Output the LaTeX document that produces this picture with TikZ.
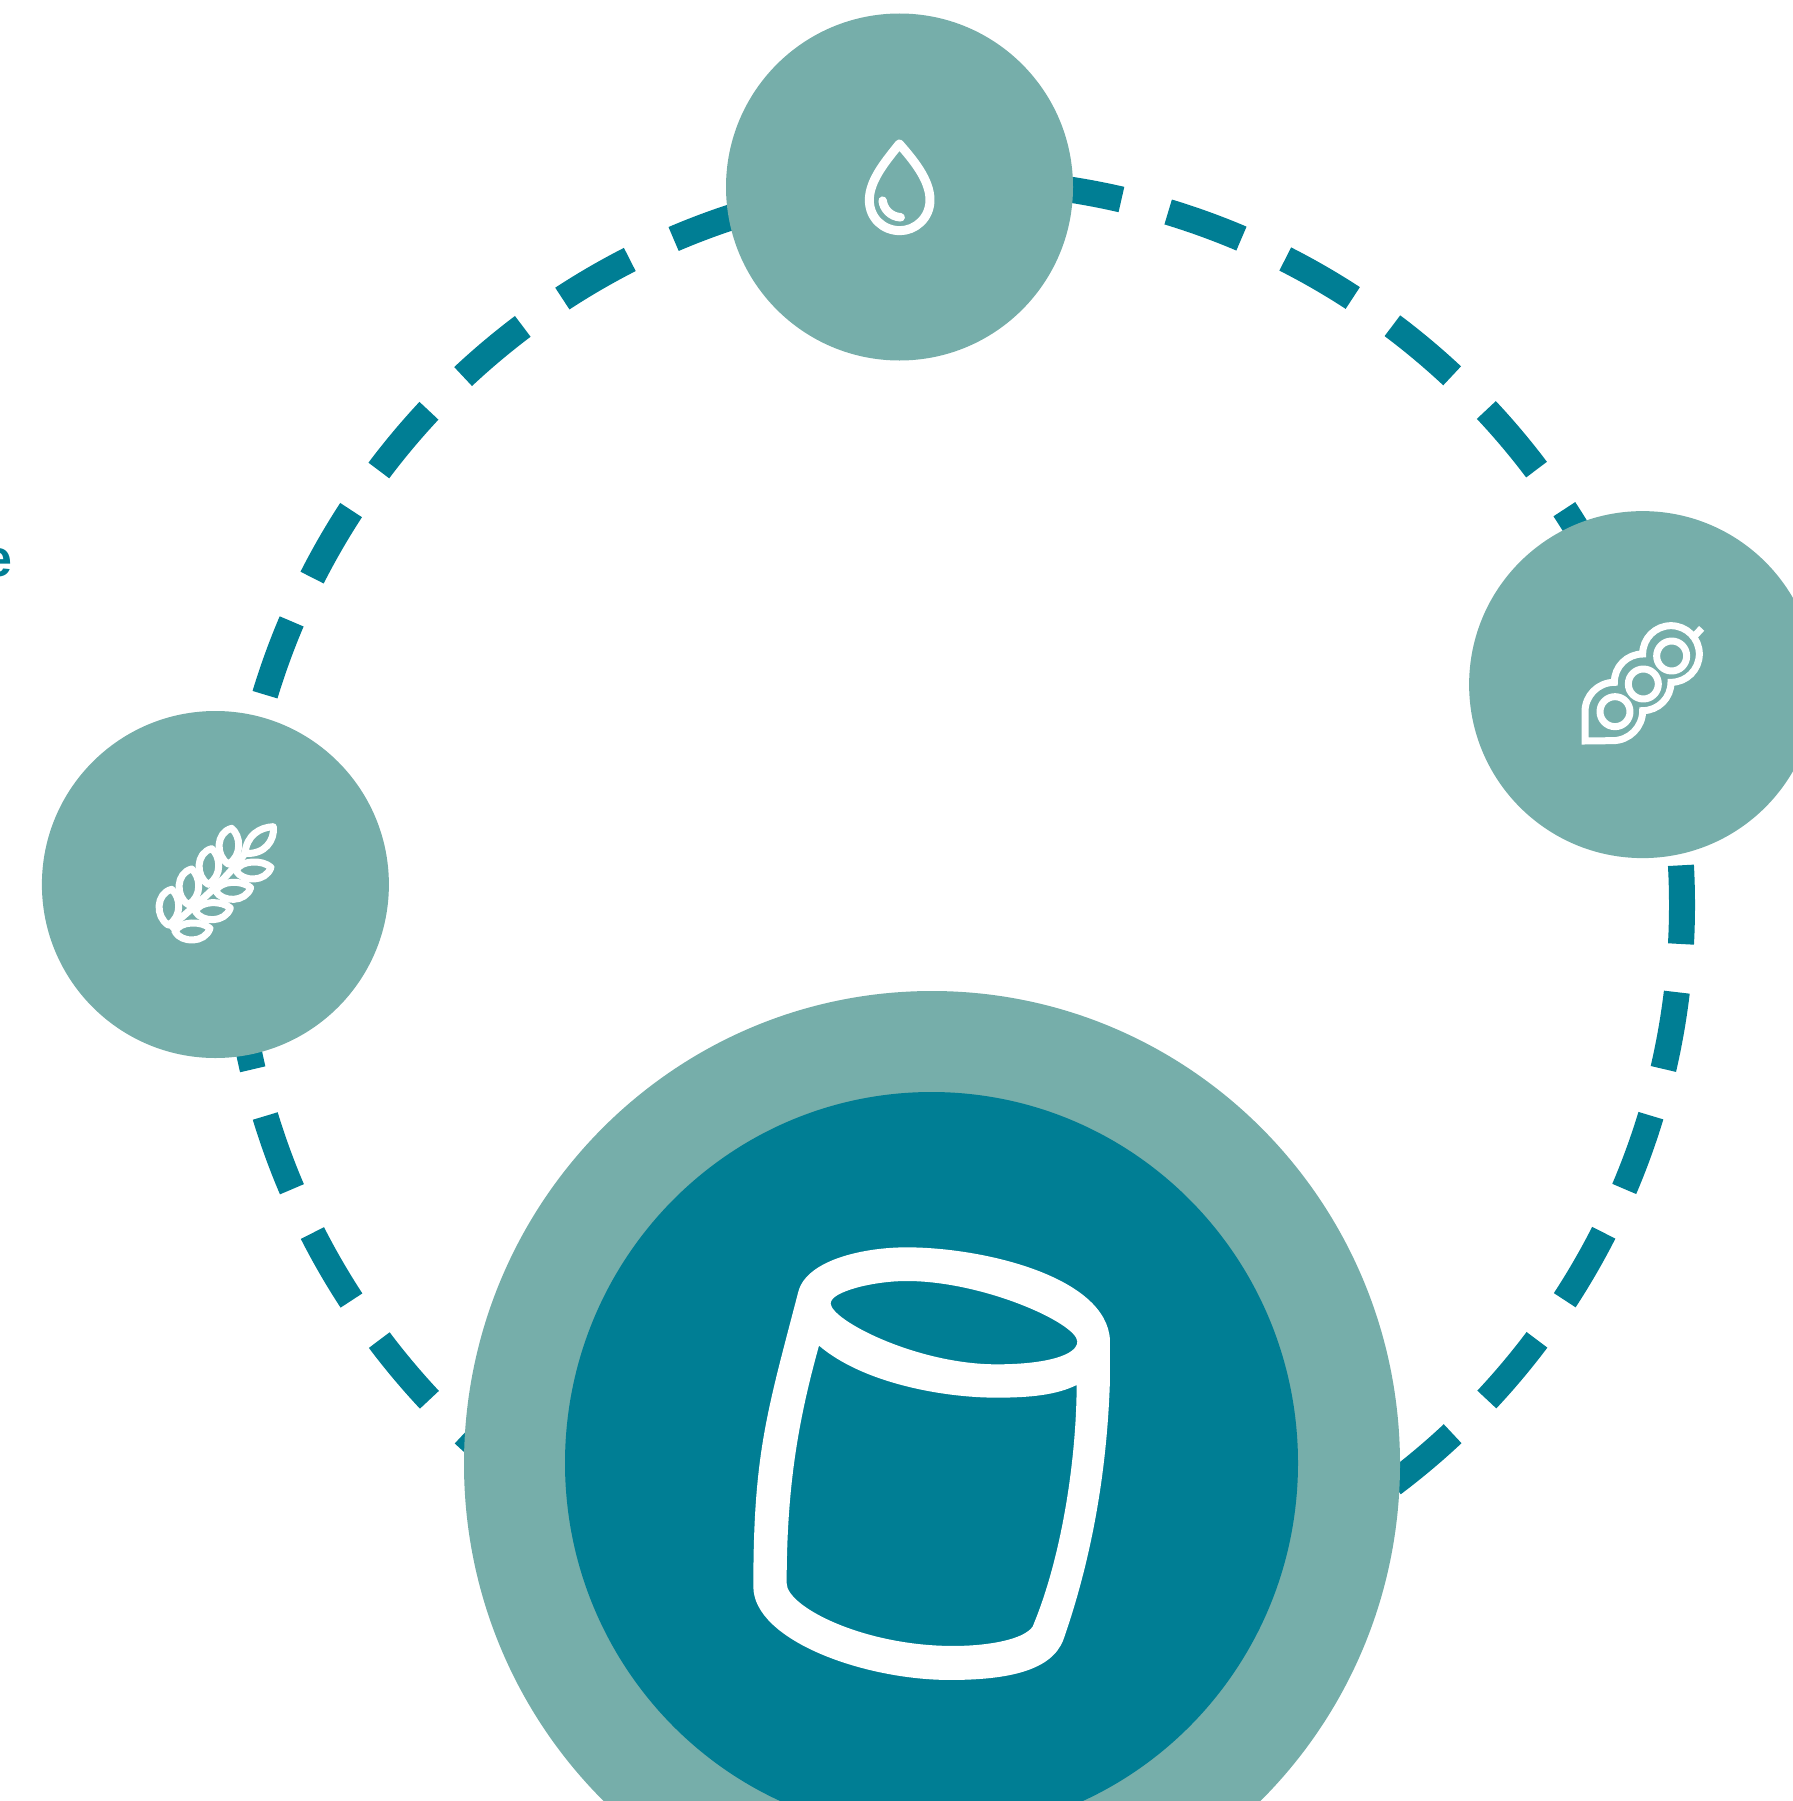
\documentclass[tikz,border=0pt]{standalone}
\usepackage{fontspec}
\setmainfont{Liberation Sans}
\usetikzlibrary{shapes.geometric}
\definecolor{TealDark}{HTML}{007E94}
\definecolor{TealPale}{HTML}{76AEAA}
\begin{document}
\begin{tikzpicture}[
x=1pt, y=-1pt,
ringdash/.style={TealDark, line width=26pt, dash pattern=on 78pt off 48.36pt, dash phase=39pt},
ingredient/.style={circle, fill=TealPale, minimum size=347pt, inner sep=0pt},
halo/.style={ellipse, fill=TealPale, minimum width=936pt, minimum height=946pt, inner sep=0pt},
core/.style={ellipse, fill=TealDark, minimum width=733pt, minimum height=742pt, inner sep=0pt},
iconline/.style={draw=white, line width=7pt, line join=round},
cutword/.style={TealDark, font=\bfseries\fontsize{52pt}{52pt}\selectfont, inner sep=0pt, anchor=base east}
]
\useasboundingbox (0,0) rectangle (1792,1801);
\coordinate (ringmid) at (958,905);
\draw[ringdash] (ringmid) circle (724);
\node[cutword] (word) at (12.5,576) {e};
\node[ingredient] (water) at (899.5,187) {};
\node[ingredient] (grain) at (215.4,884.5) {};
\node[ingredient] (pea) at (1642.6,684.6) {};
\node[halo] (haloring) at (932,1464) {};
\node[core] (corering) at (931.5,1463) {};
% water drop
\begin{scope}[shift={(840,120)}, scale=0.3333]
\draw[iconline, line width=9pt] (178,72) .. controls (220,120) and (270,180) .. (270,240) .. controls (270,295) and (225,332) .. (180,332) .. controls (130,332) and (88,295) .. (88,240) .. controls (88,180) and (140,120) .. cycle;
\draw[iconline, line width=8.5pt, line cap=round] (128,242) .. controls (130,265) and (150,290) .. (182,292);
\end{scope}
% grain ear
\begin{scope}[shift={(130,800)}, scale=0.3333]
\foreach \i in {0,1,2,3} {
\draw[iconline, shift={(\i*60,-\i*61)}] (115,375) .. controls (75,350) and (78,280) .. (125,268) .. controls (152,290) and (158,350) .. cycle;
\draw[iconline, shift={(\i*61,-\i*61)}] (135,395) .. controls (150,362) and (215,362) .. (240,385) .. controls (225,430) and (155,430) .. cycle;
}
\draw[iconline] (345,160) .. controls (350,105) and (390,82) .. (430,80) .. controls (435,120) and (405,165) .. cycle;
\draw[iconline] (118,385) .. controls (190,320) and (280,250) .. (345,160);
\end{scope}
% pea pod
\begin{scope}[shift={(1560,610)}, scale=0.3333]
\draw[iconline, line join=miter] (75,393) -- (75,305) arc[start angle=180, end angle=270, radius=88] arc[start angle=180, end angle=270, radius=85] arc[start angle=180, end angle=450, radius=85] arc[start angle=0, end angle=90, radius=85] arc[start angle=0, end angle=90, radius=90] -- cycle;
\draw[iconline] (165,305) circle (45);
\draw[iconline] (250,222) circle (45);
\draw[iconline] (335,138) circle (45);
\draw[iconline] (400,82) -- (425,55);
\end{scope}
% cup
\begin{scope}[shift={(730,1220)}, scale=0.3333]
\fill[white, even odd rule]
(205,215) .. controls (230,120) and (400,82) .. (530,82) .. controls (760,82) and (1130,170) .. (1140,360) -- (1140,480) .. controls (1130,800) and (1070,1060) .. (1000,1260) .. controls (965,1350) and (840,1380) .. (660,1380) .. controls (400,1380) and (70,1260) .. (70,1100) .. controls (70,700) and (110,580) .. cycle
(302,250) .. controls (302,215) and (430,183) .. (530,183) .. controls (760,183) and (1042,310) .. (1042,365) .. controls (1042,405) and (950,433) .. (800,433) .. controls (560,433) and (302,300) .. cycle
(267,377) .. controls (400,490) and (640,533) .. (800,533) .. controls (900,533) and (980,525) .. (1040,495) .. controls (1040,700) and (1000,1000) .. (908,1220) .. controls (880,1260) and (770,1278) .. (670,1278) .. controls (400,1278) and (170,1160) .. (170,1090) .. controls (170,800) and (205,600) .. cycle;
\end{scope}
\end{tikzpicture}
\end{document}
